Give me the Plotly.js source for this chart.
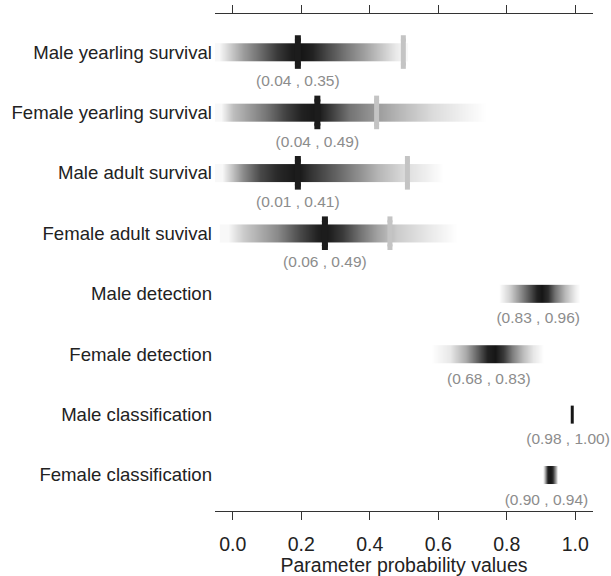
<!DOCTYPE html>
<html>
<head>
<meta charset="utf-8">
<script src="https://cdn.plot.ly/plotly-3.0.1.min.js"></script>
<style>
html,body{margin:0;padding:0;background:#fff;}
#chart{width:611px;height:576px;}
</style>
</head>
<body>
<div id="chart"></div>
<script>
// Parameters (top to bottom)
var parameters = [
  "Male yearling survival",
  "Female yearling survival",
  "Male adult survival",
  "Female adult suvival",
  "Male detection",
  "Female detection",
  "Male classification",
  "Female classification"
];

// Interval labels
var intervals = [
  "(0.04 , 0.35)", "(0.04 , 0.49)", "(0.01 , 0.41)", "(0.06 , 0.49)",
  "(0.83 , 0.96)", "(0.68 , 0.83)", "(0.98 , 1.00)", "(0.90 , 0.94)"
];

// Posterior density strips: sample positions and relative intensity (0..1)
var stripX = [
  [-0.04,-0.015,0.03,0.08,0.13,0.17,0.2,0.23,0.275,0.33,0.38,0.43,0.475,0.5],
  [-0.035,0.0,0.1,0.15,0.2,0.245,0.29,0.34,0.41,0.49,0.585,0.685,0.74],
  [-0.033,0.03,0.08,0.13,0.19,0.225,0.32,0.42,0.51,0.57,0.615],
  [-0.015,0.03,0.13,0.196,0.245,0.27,0.32,0.37,0.42,0.48,0.57,0.655],
  [0.778,0.81,0.84,0.868,0.888,0.903,0.92,0.94,0.97,0.999,1.012],
  [0.58,0.634,0.678,0.716,0.742,0.766,0.789,0.815,0.844,0.876,0.905],
  [0.983,0.987,0.988,0.996,0.997,1.0],
  [0.903,0.906,0.914,0.92,0.929,0.935,0.942,0.947]
];
var stripDensity = [
  [0.03,0.18,0.42,0.63,0.85,0.97,1,0.95,0.78,0.58,0.42,0.25,0.1,0.03],
  [0.03,0.28,0.6,0.8,0.95,1.0,0.82,0.6,0.45,0.3,0.15,0.05,0.0],
  [0.03,0.5,0.78,0.92,1.0,0.88,0.62,0.32,0.14,0.06,0.0],
  [0.03,0.22,0.5,0.78,0.95,1.0,0.85,0.6,0.4,0.22,0.1,0.0],
  [0.0,0.2,0.5,0.75,0.95,1.0,0.9,0.6,0.3,0.08,0.0],
  [0.0,0.1,0.35,0.7,0.95,1.0,0.85,0.55,0.3,0.1,0.0],
  [0.0,0.0,1.0,1.0,0.0,0.0],
  [0.0,0.1,0.5,0.95,1.0,0.9,0.4,0.05]
];

// Median (black tick) and reference value (grey tick) for survival rows
var medians = [0.19, 0.247, 0.19, 0.269, null, null, null, null];
var references = [0.498, 0.42, 0.51, 0.459, null, null, null, null];

// Horizontal centre of each interval label
var labelCenter = [0.19, 0.247, 0.19, 0.269, 0.892, 0.748, 0.979, 0.916];

var rows = parameters.map(function(_, i){ return i; });
var halfH = 0.145;

var traces = [];
rows.forEach(function(r){
  var d = stripDensity[r];
  traces.push({
    type: 'heatmap',
    x: stripX[r],
    y: [r - halfH, r, r + halfH],
    z: [d, d],
    zmin: 0, zmax: 1,
    zsmooth: 'best',
    colorscale: [[0, '#ffffff'], [1, '#161616']],
    showscale: false,
    hoverinfo: 'skip'
  });
});

// reference (grey) ticks and median (black) ticks
var refX = [], refY = [], medX = [], medY = [];
rows.forEach(function(r){
  if (references[r] !== null) { refX.push(references[r]); refY.push(r); }
  if (medians[r] !== null) { medX.push(medians[r]); medY.push(r); }
});
function tickTraces(xs, ys, color, w, size) {
  return [
    {type: 'scatter', mode: 'markers', x: xs, y: ys,
     marker: {symbol: 'line-ns', size: size - w, color: color, line: {width: w, color: color}},
     hoverinfo: 'skip', cliponaxis: false},
    // rounded ends
    {type: 'scatter', mode: 'markers', x: xs.concat(xs),
     y: ys.map(function(v){ return v - (size - w) / 2 / 60.5; }).concat(ys.map(function(v){ return v + (size - w) / 2 / 60.5; })),
     marker: {symbol: 'circle', size: w, color: color, line: {width: 0}},
     hoverinfo: 'skip', cliponaxis: false}
  ];
}
traces = traces.concat(tickTraces(refX, refY, '#c4c4c4', 5, 29));
traces = traces.concat(tickTraces(medX, medY, '#1c1c1c', 6, 30));

// interval labels
traces.push({
  type: 'scatter', mode: 'text',
  x: labelCenter,
  y: rows.map(function(r){ return r + (medians[r] !== null ? 0.5 : 0.43); }),
  text: intervals,
  textposition: 'middle center',
  textfont: {family: 'Liberation Sans, Arial, sans-serif', size: 15.5, color: '#8c8c8c'},
  cliponaxis: false,
  hoverinfo: 'skip'
});

var layout = {
  width: 611, height: 576,
  margin: {l: 215, r: 18, t: 14, b: 65},
  paper_bgcolor: '#ffffff',
  plot_bgcolor: '#ffffff',
  showlegend: false,
  font: {family: 'Liberation Sans, Arial, sans-serif', color: '#222222'},
  xaxis: {
    range: [-0.052, 1.052],
    tickvals: [0, 0.2, 0.4, 0.6, 0.8, 1.0],
    ticktext: ['0.0', '0.2', '0.4', '0.6', '0.8', '1.0'],
    ticks: 'outside', ticklen: 8, tickwidth: 1, tickcolor: '#333333',
    showline: true, linecolor: '#333333', linewidth: 1,
    mirror: 'ticks',
    showgrid: false, zeroline: false,
    tickfont: {size: 19.5, color: '#222222'},
    ticklabelstandoff: 8,
    title: {text: 'Parameter probability values', font: {size: 19.5, color: '#222222'}, standoff: 6},
    fixedrange: true
  },
  yaxis: {
    range: [7.6, -0.63],
    tickvals: rows,
    ticktext: parameters,
    ticks: '', showline: false, showgrid: false, zeroline: false,
    tickfont: {size: 18.6, color: '#222222'},
    ticklabelstandoff: 2,
    fixedrange: true
  }
};

Plotly.newPlot('chart', traces, layout, {displayModeBar: false, staticPlot: true});
</script>
</body>
</html>
